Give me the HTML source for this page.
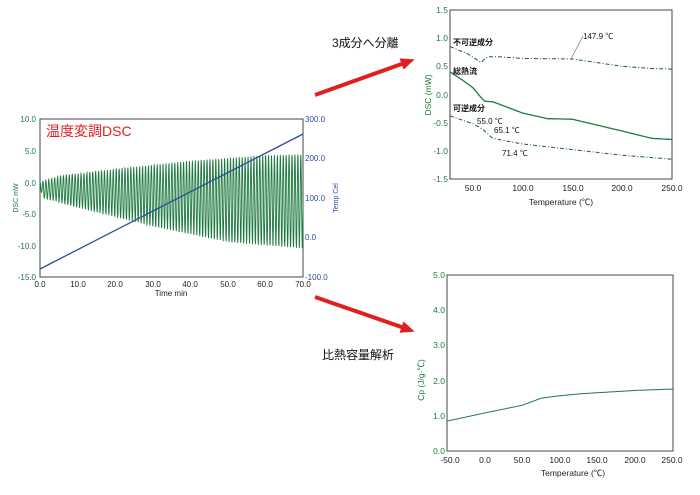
<!DOCTYPE html><html><head><meta charset="utf-8"><style>
body{margin:0;background:#fff;width:700px;height:490px;overflow:hidden}
svg{font-family:"Liberation Sans","Noto Sans CJK JP",sans-serif}
</style></head><body>
<svg id="s" width="700" height="490" xmlns="http://www.w3.org/2000/svg">
<defs><marker id="ar" markerWidth="14" markerHeight="12" refX="9" refY="6" orient="auto" markerUnits="userSpaceOnUse"><path d="M0,0 L14,6 L0,12 z" fill="#e02020"/></marker></defs>
<rect x="40" y="119" width="263" height="158" fill="#fff" stroke="#444" stroke-width="1"/>
<path id="osc" fill="none" stroke="#1e7a40" stroke-width="0.9"/>
<line x1="40" y1="269" x2="303" y2="134" stroke="#2a4f9a" stroke-width="1.3"/>
<text x="46" y="136" font-size="14" fill="#e02020">温度変調DSC</text>
<g font-size="8" fill="#1e7a40" text-anchor="end">
<text x="36" y="122">10.0</text><text x="36" y="154">5.0</text><text x="36" y="186">0.0</text><text x="36" y="217">-5.0</text><text x="36" y="249">-10.0</text><text x="36" y="280">-15.0</text></g>
<g font-size="8" fill="#2a4f9a"><text x="305" y="122">300.0</text><text x="305" y="161">200.0</text><text x="305" y="201">100.0</text><text x="305" y="240">0.0</text><text x="305" y="280">-100.0</text></g>
<g font-size="8" fill="#222" text-anchor="middle">
<text x="40" y="287">0.0</text><text x="78" y="287">10.0</text><text x="115" y="287">20.0</text><text x="153" y="287">30.0</text><text x="190" y="287">40.0</text><text x="228" y="287">50.0</text><text x="265" y="287">60.0</text><text x="303" y="287">70.0</text>
<text x="171" y="296">Time min</text></g>
<text transform="translate(18,198) rotate(-90)" font-size="7" fill="#1e7a40" text-anchor="middle">DSC mW</text>
<text transform="translate(338,198) rotate(-90)" font-size="7" fill="#2a4f9a" text-anchor="middle">Temp Cel</text>
<line x1="315" y1="95" x2="410" y2="61" stroke="#e02020" stroke-width="4" marker-end="url(#ar)"/>
<line x1="315" y1="297" x2="410" y2="330" stroke="#e02020" stroke-width="4" marker-end="url(#ar)"/>
<text x="332" y="47" font-size="12" fill="#111">3成分へ分離</text>
<text x="322" y="359" font-size="12" fill="#111">比熱容量解析</text>
<rect x="450" y="10" width="222" height="169" fill="#fff" stroke="#444"/>
<path id="nr" fill="none" stroke="#1e5a3a" stroke-width="1" stroke-dasharray="4,2,1,2"/>
<path id="tot" fill="none" stroke="#1e7a40" stroke-width="1.3"/>
<path id="rv" fill="none" stroke="#1e5a3a" stroke-width="1" stroke-dasharray="4,2,1,2"/>
<g font-size="8.5" fill="#1e7a40" text-anchor="end">
<text x="448" y="13">1.5</text><text x="448" y="41">1.0</text><text x="448" y="69">0.5</text><text x="448" y="98">0.0</text><text x="448" y="126">-0.5</text><text x="448" y="154">-1.0</text><text x="448" y="182">-1.5</text></g>
<g font-size="8.5" fill="#222" text-anchor="middle">
<text x="473" y="191">50.0</text><text x="523" y="191">100.0</text><text x="573" y="191">150.0</text><text x="622" y="191">200.0</text><text x="672" y="191">250.0</text>
<text x="561" y="205">Temperature (℃)</text></g>
<text transform="translate(431,95) rotate(-90)" font-size="8.5" fill="#1e7a40" text-anchor="middle">DSC (mW)</text>
<g font-size="8" fill="#111">
<text x="453" y="45" font-weight="bold">不可逆成分</text>
<text x="453" y="74" font-weight="bold">総熱流</text>
<text x="453" y="111" font-weight="bold">可逆成分</text>
<text x="583" y="39">147.9 ℃</text>
<text x="477" y="124">55.0 ℃</text>
<text x="494" y="133">65.1 ℃</text>
<text x="502" y="156">71.4 ℃</text></g>
<line x1="571" y1="59" x2="583" y2="36" stroke="#666" stroke-width="0.6"/>
<rect x="447" y="275" width="226" height="176" fill="#fff" stroke="#444"/>
<path id="cp" fill="none" stroke="#1e7a40" stroke-width="1"/>
<g font-size="8.5" fill="#1e7a40" text-anchor="end">
<text x="445" y="278">5.0</text><text x="445" y="313">4.0</text><text x="445" y="348">3.0</text><text x="445" y="384">2.0</text><text x="445" y="419">1.0</text><text x="445" y="454">0.0</text></g>
<g font-size="8.5" fill="#222" text-anchor="middle">
<text x="450" y="463">-50.0</text><text x="485" y="463">0.0</text><text x="522" y="463">50.0</text><text x="560" y="463">100.0</text><text x="597" y="463">150.0</text><text x="635" y="463">200.0</text><text x="672" y="463">250.0</text>
<text x="573" y="476">Temperature (℃)</text></g>
<text transform="translate(424,380) rotate(-90)" font-size="8.5" fill="#1e7a40" text-anchor="middle">Cp (J/g·℃)</text>
</svg>
<script>
function lerp(p,t){for(var i=0;i<p.length-1;i++){if(t<=p[i+1][0]){var a=p[i],b=p[i+1];return a[1]+(b[1]-a[1])*(t-a[0])/(b[0]-a[0]);}}return p[p.length-1][1];}
var up=[[0,0],[5,1],[20,2.1],[40,3.4],[60,4.3],[70,4.4]],lo=[[0,-1],[1,-2.5],[10,-4],[30,-7],[50,-9.5],[70,-10.5]];
var d="",per=0.78;
for(var t=0;t<=70;t+=0.05){var u=lerp(up,t),l=lerp(lo,t),m=(u+l)/2,a=(u-l)/2,v=m+a*Math.cos(2*Math.PI*t/per);
var x=40+t*263/70,y=119+(10-v)*6.32;d+=(d?"L":"M")+x.toFixed(1)+","+y.toFixed(1);}
document.getElementById("osc").setAttribute("d",d);
function P(pts,fx,fy){var s="";for(var T=pts[0][0];T<=pts[pts.length-1][0];T+=1){s+=(s?"L":"M")+fx(T).toFixed(1)+","+fy(lerp(pts,T)).toFixed(1);}return s;}
var fx=function(T){return 450+(T-27)*0.995},fy=function(v){return 10+(1.5-v)*56.3};
document.getElementById("nr").setAttribute("d",P([[27,0.85],[45,0.72],[58,0.57],[65,0.67],[75,0.67],[100,0.64],[150,0.63],[200,0.5],[230,0.46],[250,0.45]],fx,fy));
document.getElementById("tot").setAttribute("d",P([[27,0.4],[40,0.25],[50,0.12],[58,-0.05],[62,-0.12],[70,-0.13],[100,-0.33],[125,-0.43],[150,-0.44],[200,-0.65],[230,-0.78],[250,-0.8]],fx,fy));
document.getElementById("rv").setAttribute("d",P([[27,-0.38],[50,-0.52],[60,-0.62],[70,-0.78],[100,-0.88],[150,-0.98],[200,-1.08],[250,-1.15]],fx,fy));
document.getElementById("cp").setAttribute("d",P([[-50,0.85],[0,1.08],[50,1.3],[60,1.38],[75,1.5],[100,1.57],[130,1.63],[200,1.72],[250,1.76]],function(T){return 447+(T+50)*0.753},function(v){return 451-v*35.2}));
</script>
</body></html>
